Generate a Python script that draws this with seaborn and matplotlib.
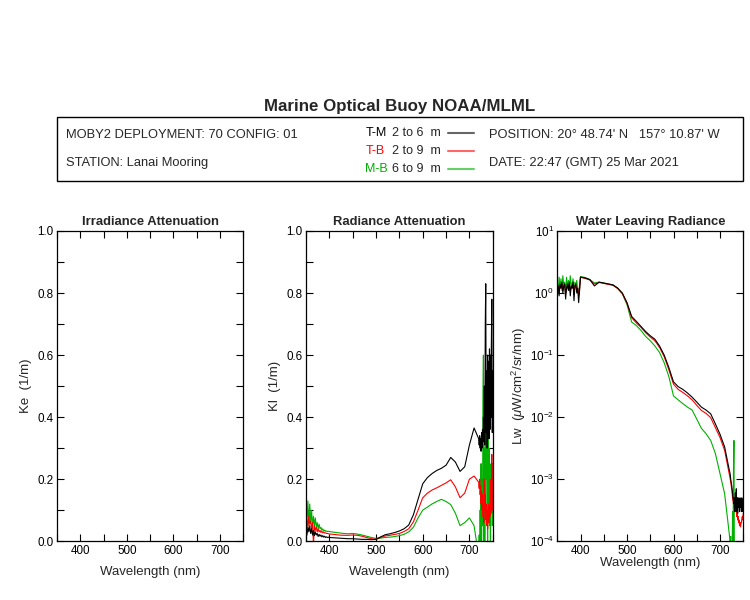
import numpy as np
import pandas as pd
import seaborn as sns
import matplotlib.pyplot as plt
from matplotlib.patches import Rectangle
from matplotlib.ticker import MultipleLocator, LogLocator, NullLocator

# wavelength grid of the spectra (nm)
wavelength = np.concatenate([np.arange(350, 400, 2), np.arange(400, 721, 10), np.arange(721, 751, 1)])

# Radiance attenuation Kl (1/m)
kl_tm = [0.04, 0.02, 0.045, 0.03, 0.05, 0.025, 0.04, 0.02, 0.035, 0.018, 0.03, 0.02, 0.025,
         0.015, 0.022, 0.016, 0.02, 0.014, 0.018, 0.013, 0.016, 0.012, 0.014, 0.012, 0.013,
         0.012, 0.011, 0.01, 0.009, 0.008, 0.008, 0.007, 0.006, 0.006, 0.005, 0.006, 0.014,
         0.021, 0.024, 0.028, 0.033, 0.04, 0.052, 0.085, 0.135, 0.185, 0.205, 0.218, 0.228,
         0.235, 0.245, 0.27, 0.255, 0.225, 0.24, 0.31, 0.365, 0.33,
         0.31, 0.34, 0.3, 0.33, 0.29, 0.35, 0.3, 0.36, 0.32, 0.4, 0.33, 0.5, 0.31, 0.7, 0.83,
         0.35, 0.55, 0.3, 0.6, 0.35, 0.58, 0.33, 0.62, 0.36, 0.6, 0.4, 0.63, 0.78, 0.35, 0.55]
kl_tb = [0.05, 0.07, 0.045, 0.08, 0.055, 0.065, 0.04, 0.06, -0.01, 0.05, 0.035, 0.045, 0.03,
         0.04, 0.03, 0.035, 0.028, 0.032, 0.027, 0.03, 0.026, 0.027, 0.025, 0.025, 0.024,
         0.023, 0.022, 0.02, 0.019, 0.019, 0.02, 0.019, 0.016, 0.012, 0.008, 0.006, 0.012,
         0.017, 0.019, 0.022, 0.025, 0.031, 0.04, 0.062, 0.1, 0.14, 0.155, 0.165, 0.172,
         0.18, 0.188, 0.198, 0.175, 0.14, 0.155, 0.2, 0.21, 0.19,
         0.17, 0.2, 0.15, 0.18, 0.12, 0.16, 0.1, 0.15, 0.08, 0.12, 0.06, 0.2, 0.1, 0.15, 0.07,
         0.12, 0.05, 0.1, 0.04, 0.09, 0.12, 0.06, 0.11, 0.08, 0.2, 0.09, 0.15, 0.28, 0.1, 0.25]
kl_mb = [0.1, 0.06, 0.13, 0.05, 0.12, 0.06, 0.1, 0.045, 0.08, 0.05, 0.075, 0.045, 0.06,
         0.04, 0.055, 0.04, 0.045, 0.035, 0.04, 0.033, 0.036, 0.032, 0.033, 0.031, 0.032,
         0.031, 0.029, 0.027, 0.025, 0.024, 0.025, 0.023, 0.02, 0.016, 0.012, 0.009, 0.01,
         0.012, 0.013, 0.015, 0.018, 0.022, 0.03, 0.045, 0.075, 0.1, 0.11, 0.12, 0.128,
         0.135, 0.128, 0.118, 0.09, 0.05, 0.06, 0.075, 0.05, -0.05,
         0.02, -0.08, 0.1, -0.05, 0.25, -0.1, 0.2, 0.05, 0.45, 0.6, -0.1, 0.3, -0.05, 0.5, 0.1,
         0.45, 0.2, 0.4, -0.05, 0.35, 0.1, 0.3, 0.05, 0.25, -0.05, 0.2, 0.1, 0.15, 0.05, 0.1]

# Water leaving radiance Lw (uW/cm^2/sr/nm)
lw_tm = [1.1, 1.3, 0.9, 1.4, 1.2, 1.5, 1.0, 1.3, 1.4, 0.8, 1.2, 1.4, 1.1, 1.5, 0.9, 1.3,
         1.2, 1.5, 0.75, 1.3, 1.4, 1.0, 1.2, 0.7, 1.1,
         1.8, 1.75, 1.65, 1.3, 1.5, 1.45, 1.4, 1.35, 1.2, 1.0, 0.7, 0.42, 0.35, 0.29, 0.24,
         0.205, 0.18, 0.14, 0.1, 0.063, 0.037, 0.031, 0.028, 0.0245, 0.021, 0.0175, 0.0145,
         0.013, 0.0113, 0.0078, 0.0053, 0.0033, 0.0014,
         0.0013, 0.0012, 0.001, 0.0009, 0.0008, 0.0007, 0.0006, 0.0005, 0.00045, 0.0004,
         0.0005, 0.0003, 0.0006, 0.00035, 0.0007, 0.0003, 0.0005, 0.00028, 0.0005, 0.00035,
         0.00045, 0.0003, 0.0005, 0.00035, 0.00045, 0.0003, 0.0005, 0.0004, 0.0003, 0.00045]
lw_tb = [1.2, 1.3, 1.1, 1.3, 1.2, 1.4, 1.1, 1.25, 1.3, 1.0, 1.2, 1.3, 1.15, 1.4, 1.05, 1.25,
         1.2, 1.4, 0.95, 1.3, 1.35, 1.1, 1.2, 0.9, 1.15,
         1.8, 1.72, 1.62, 1.4, 1.48, 1.43, 1.38, 1.33, 1.18, 0.98, 0.68, 0.4, 0.33, 0.28, 0.23,
         0.195, 0.17, 0.133, 0.094, 0.058, 0.034, 0.028, 0.025, 0.022, 0.019, 0.0155, 0.0128,
         0.0115, 0.0098, 0.0068, 0.0047, 0.0029, 0.0012,
         0.0011, 0.001, 0.0009, 0.0008, 0.0007, 0.0006, 0.0005, 0.00045, 0.0004, 0.00035,
         0.0004, 0.0003, 0.00035, 0.0003, 0.00032, 0.00025, 0.0003, 0.00022, 0.00025, 0.0002,
         0.00022, 0.00018, 0.0002, 0.00017, 0.00019, 0.0002, 0.00023, 0.00025, 0.00022, 0.00028]
lw_mb = [1.6, 1.0, 1.8, 1.2, 1.7, 1.1, 1.9, 1.3, 1.5, 1.0, 1.8, 1.2, 1.6, 1.1, 1.9, 1.3,
         1.4, 1.7, 1.0, 1.5, 1.3, 1.6, 1.1, 1.0, 1.4,
         1.85, 1.78, 1.65, 1.45, 1.5, 1.45, 1.4, 1.35, 1.2, 0.97, 0.65, 0.34, 0.3, 0.25, 0.2,
         0.17, 0.14, 0.11, 0.075, 0.045, 0.022, 0.019, 0.0165, 0.0145, 0.013, 0.0093, 0.0066,
         0.0054, 0.0042, 0.0026, 0.00123, 0.00058, 0.00013,
         0.00011, 0.00008, 0.00012, 0.00005, 0.00009, 0.00004, 0.0003, 0.00005, 0.0015, 0.0042,
         0.00003, 0.00006, 0.00002, 0.00004, 0.00002, 0.00002, 0.00002, 0.00002, 0.00002,
         0.00002, 0.00002, 0.00002, 0.00002, 0.00002, 0.00002, 0.00002, 0.00002, 0.00002,
         0.00002, 0.00002]

pairs = ["M-B", "T-B", "T-M"]
colors = {"T-M": "black", "T-B": "#ff0000", "M-B": "#00b000"}

kl = pd.DataFrame({"wl": np.tile(wavelength, 3),
                   "val": np.concatenate([kl_mb, kl_tb, kl_tm]),
                   "pair": np.repeat(pairs, len(wavelength))})
lw = pd.DataFrame({"wl": np.tile(wavelength, 3),
                   "val": np.concatenate([lw_mb, lw_tb, lw_tm]),
                   "pair": np.repeat(pairs, len(wavelength))})

sns.set_theme(style="ticks")
plt.rcParams['font.family'] = ['Liberation Sans', 'DejaVu Sans']
plt.rcParams['mathtext.fontset'] = 'custom'
plt.rcParams['mathtext.rm'] = 'Liberation Sans'
plt.rcParams['mathtext.it'] = 'Liberation Sans:italic'

fig = plt.figure(figsize=(7.5, 6), dpi=100)
ax1 = fig.add_axes([0.076, 0.098, 0.248, 0.517])
ax2 = fig.add_axes([0.408, 0.098, 0.249, 0.517])
ax3 = fig.add_axes([0.743, 0.098, 0.248, 0.517])

ax3.set_yscale("log")
sns.lineplot(data=kl, x="wl", y="val", hue="pair", palette=colors, hue_order=pairs,
             estimator=None, sort=False, linewidth=0.8, legend=False, ax=ax2)
sns.lineplot(data=lw, x="wl", y="val", hue="pair", palette=colors, hue_order=pairs,
             estimator=None, sort=False, linewidth=0.8, legend=False, ax=ax3)

for ax in (ax1, ax2, ax3):
    ax.set_xlim(350, 750)
    ax.xaxis.set_major_locator(MultipleLocator(100))
    ax.xaxis.set_minor_locator(MultipleLocator(50))
    ax.tick_params(which="both", direction="in", top=True, right=True, length=5,
                   width=0.8, labelsize=8.4, colors="black", pad=2.5)
    for s in ax.spines.values():
        s.set_linewidth(0.9)
        s.set_color("black")
    ax.set_xlabel("Wavelength (nm)", fontsize=9.5, labelpad=7)

for ax in (ax1, ax2):
    ax.set_ylim(0, 1)
    ax.yaxis.set_major_locator(MultipleLocator(0.2))
    ax.yaxis.set_minor_locator(MultipleLocator(0.1))
    ax.yaxis.set_major_formatter(plt.FormatStrFormatter("%.1f"))

ax3.set_ylim(1e-4, 10)
ax3.yaxis.set_major_locator(LogLocator(base=10, numticks=10))
ax3.yaxis.set_minor_locator(NullLocator())
ax3.set_xlabel("Wavelength (nm)", fontsize=9.5, labelpad=0)

ax1.set_ylabel("Ke  (1/m)", fontsize=9.5, labelpad=4)
ax2.set_ylabel("Kl  (1/m)", fontsize=9.5, labelpad=4)
ax3.set_ylabel(r"Lw  ($\mu$W/cm$^2$/sr/nm)", fontsize=9.5, labelpad=1)

ax1.set_title("Irradiance Attenuation", fontsize=9.4, fontweight="bold", pad=4)
ax2.set_title("Radiance Attenuation", fontsize=9.4, fontweight="bold", pad=4)
ax3.set_title("Water Leaving Radiance", fontsize=9.4, fontweight="bold", pad=4)

# header
fig.text(0.533, 0.822, "Marine Optical Buoy NOAA/MLML", ha="center", va="center",
         fontsize=12.2, fontweight="bold")
fig.patches.append(Rectangle((0.076, 0.698), 0.915, 0.107, transform=fig.transFigure,
                             fill=False, edgecolor="black", linewidth=1))
fig.text(0.088, 0.775, "MOBY2 DEPLOYMENT: 70 CONFIG: 01", va="center", fontsize=9.3)
fig.text(0.088, 0.728, "STATION: Lanai Mooring", va="center", fontsize=9.3)
fig.text(0.652, 0.775, "POSITION: 20° 48.74' N   157° 10.87' W", va="center", fontsize=9.3)
fig.text(0.652, 0.728, "DATE: 22:47 (GMT) 25 Mar 2021", va="center", fontsize=9.3)

legend_rows = [("T-M", "2 to 6  m", 0.778), ("T-B", "2 to 9  m", 0.748), ("M-B", "6 to 9  m", 0.718)]
for name, depth, y in legend_rows:
    fig.text(0.487, y, name, va="center", fontsize=9, color=colors[name])
    fig.text(0.522, y, depth, va="center", fontsize=9)
    fig.add_artist(plt.Line2D([0.597, 0.632], [y, y], transform=fig.transFigure,
                              color=colors[name], linewidth=1.5, alpha=0.6))

fig.savefig("out.png", dpi=100)
